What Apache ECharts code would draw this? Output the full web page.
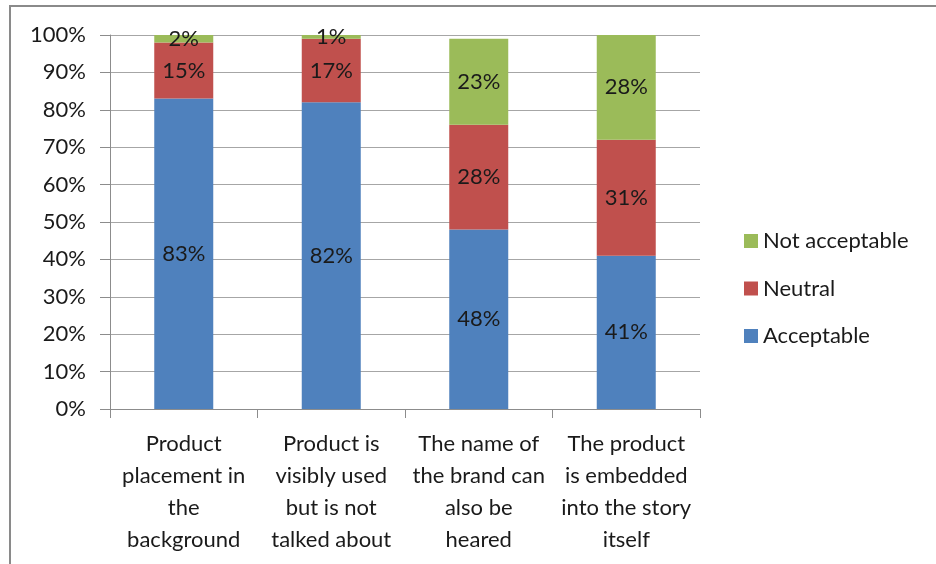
<!DOCTYPE html>
<html>
<head>
<meta charset="utf-8">
<script src="https://cdn.jsdelivr.net/npm/echarts@6/dist/echarts.min.js"></script>
<style>html,body{margin:0;padding:0;background:#fff;}#c{width:936px;height:564px;}</style>
</head>
<body>
<div id="c"></div>
<script>
const categories = [
  "Product\nplacement in\nthe\nbackground",
  "Product is\nvisibly used\nbut is not\ntalked about",
  "The name of\nthe brand can\nalso be\nheared",
  "The product\nis embedded\ninto the story\nitself"
];
const acceptable = [83, 82, 48, 41];
const neutral = [15, 17, 28, 31];
const notAcceptable = [2, 1, 23, 28];
const yTicks = [0, 10, 20, 30, 40, 50, 60, 70, 80, 90, 100];

const FONT = "Lato";
const FS = 22;
const chart = echarts.init(document.getElementById('c'));
const lbl = {show: true, position: 'inside', color: '#1a1a1a', fontFamily: FONT, fontSize: FS, formatter: p => p.value + '%'};
function mk(name, data, color) {
  return {name, type: 'bar', stack: 'a', data, barWidth: '40%', itemStyle: {color}, label: lbl, emphasis: {disabled: true}};
}
chart.setOption({
  animation: false,
  graphic: [{type: 'rect', shape: {x: 10, y: 6, width: 940, height: 570}, style: {fill: 'none', stroke: '#8a8a8a', lineWidth: 2}, z: -10}],
  grid: {left: 110, right: 236, top: 35, bottom: 155},
  legend: {
    orient: 'vertical', left: 739, top: 225, itemWidth: 14, itemHeight: 14, itemGap: 25.5,
    icon: 'rect',
    data: ['Not acceptable', 'Neutral', 'Acceptable'],
    textStyle: {fontFamily: FONT, fontSize: FS, color: '#1a1a1a'}
  },
  xAxis: {
    type: 'category', data: categories,
    axisLine: {lineStyle: {color: '#8c8c8c', width: 1}},
    axisTick: {show: true, length: 9, lineStyle: {color: '#8c8c8c'}},
    axisLabel: {fontFamily: FONT, fontSize: FS, color: '#1a1a1a', lineHeight: 32, margin: 19, interval: 0}
  },
  yAxis: {
    type: 'value', min: yTicks[0], max: yTicks[yTicks.length - 1], interval: 10,
    axisLine: {show: true, lineStyle: {color: '#8c8c8c'}},
    axisTick: {show: true, length: 10, lineStyle: {color: '#8c8c8c'}},
    splitLine: {lineStyle: {color: '#a6a6a6'}},
    axisLabel: {fontFamily: FONT, fontSize: FS, color: '#1a1a1a', margin: 24, formatter: v => v + '%'}
  },
  series: [
    mk('Acceptable', acceptable, '#4F81BD'),
    mk('Neutral', neutral, '#C0504D'),
    mk('Not acceptable', notAcceptable, '#9BBB59')
  ]
});
</script>
</body>
</html>
